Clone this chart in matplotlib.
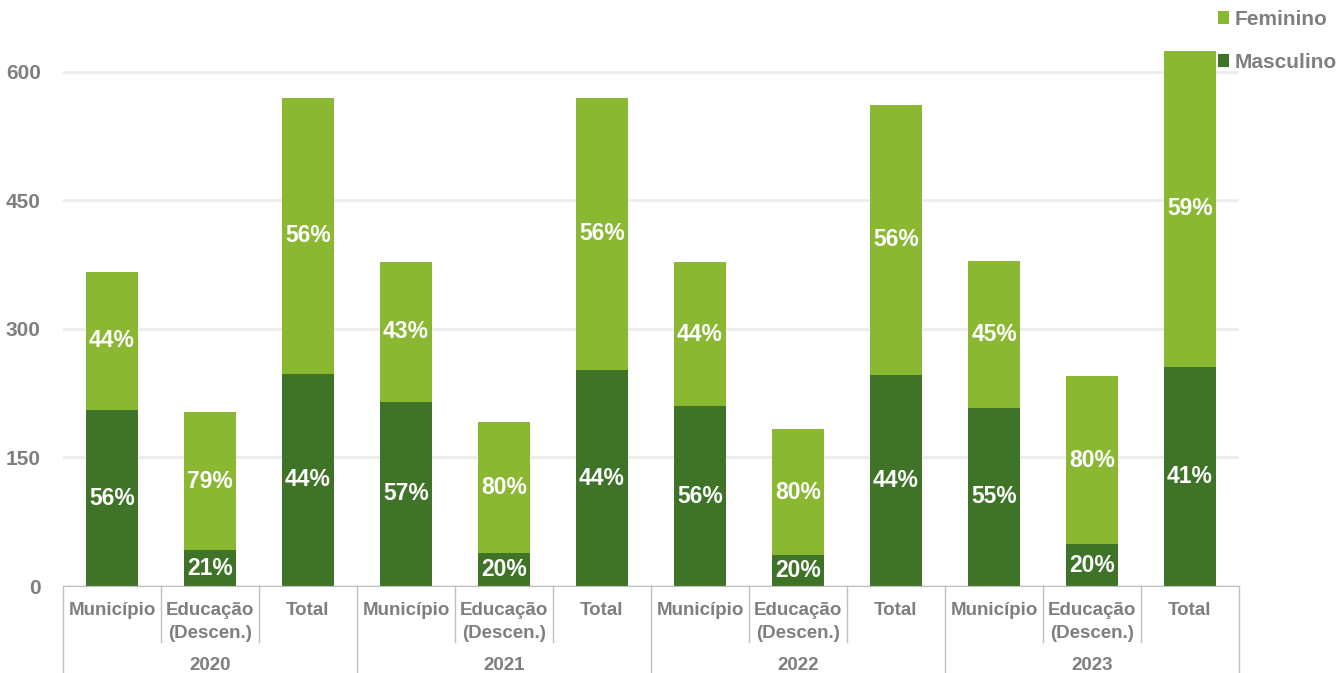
import matplotlib.pyplot as plt

# dados
anos = ['2020', '2021', '2022', '2023']
categorias = ['Município', 'Educação\n(Descen.)', 'Total']
masculino = [205, 42, 248, 215, 38, 252, 210, 36, 246, 208, 49, 256]
feminino = [162, 161, 322, 163, 153, 318, 168, 147, 316, 171, 196, 369]
pct_masc = ['56%', '21%', '44%', '57%', '20%', '44%', '56%', '20%', '44%', '55%', '20%', '41%']
pct_fem = ['44%', '79%', '56%', '43%', '80%', '56%', '44%', '80%', '56%', '45%', '80%', '59%']

cor_masc = '#3e7328'
cor_fem = '#8ab833'
cinza = '#7f7f7f'

plt.rcParams['font.family'] = ['Liberation Sans', 'DejaVu Sans']

fig = plt.figure(figsize=(13.41, 6.73), dpi=100)
ax = fig.add_axes([63 / 1341, 87 / 673, 1176 / 1341, 586 / 673])

x = list(range(len(masculino)))
ax.bar(x, masculino, width=0.53, color=cor_masc, label='Masculino', zorder=2)
ax.bar(x, feminino, width=0.53, bottom=masculino, color=cor_fem, label='Feminino', zorder=2)

for i in x:
    ax.text(i, masculino[i] / 2, pct_masc[i], ha='center', va='center',
            color='white', fontsize=16.5, fontweight='bold', zorder=3)
    ax.text(i, masculino[i] + feminino[i] / 2, pct_fem[i], ha='center', va='center',
            color='white', fontsize=16.5, fontweight='bold', zorder=3)

ax.set_xlim(-0.5, len(x) - 0.5)
ax.set_ylim(0, 684)
ax.set_yticks([0, 150, 300, 450, 600])
ax.yaxis.grid(True, color='#ebebeb', lw=1.8, zorder=0)
ax.set_axisbelow(True)
ax.tick_params(axis='y', length=0, labelsize=15, labelcolor=cinza, pad=16)
for lab in ax.get_yticklabels():
    lab.set_fontweight('bold')
ax.set_xticks([])
for s in ['top', 'right', 'left']:
    ax.spines[s].set_visible(False)
ax.spines['bottom'].set_color('#bfbfbf')

# rótulos de categoria e ano abaixo do eixo
trans = ax.get_xaxis_transform()
h = 586  # altura do eixo em pixels
for j, ano in enumerate(anos):
    for k, cat in enumerate(categorias):
        ax.text(j * 3 + k, -16 / h, cat, transform=trans, ha='center', va='top',
                fontsize=13.5, fontweight='bold', color=cinza, linespacing=1.45)
    ax.text(j * 3 + 1, -80 / h, ano, transform=trans, ha='center', va='center',
            fontsize=13.5, fontweight='bold', color=cinza)

for b in range(len(x) + 1):
    xb = b - 0.5
    fundo = -87 / h if b % 3 == 0 else -56 / h
    ax.plot([xb, xb], [0, fundo], transform=trans, color='#bfbfbf', lw=1, clip_on=False)

handles, labels = ax.get_legend_handles_labels()
leg = fig.legend(handles[::-1], labels[::-1], loc='upper left',
                 bbox_to_anchor=(1218 / 1341, 0.985), frameon=False, borderpad=0,
                 borderaxespad=0, handlelength=0.55, handleheight=0.55,
                 handletextpad=0.25, labelspacing=1.15,
                 prop={'size': 15, 'weight': 'bold'})
for t in leg.get_texts():
    t.set_color(cinza)

fig.savefig('out.png', dpi=100)
